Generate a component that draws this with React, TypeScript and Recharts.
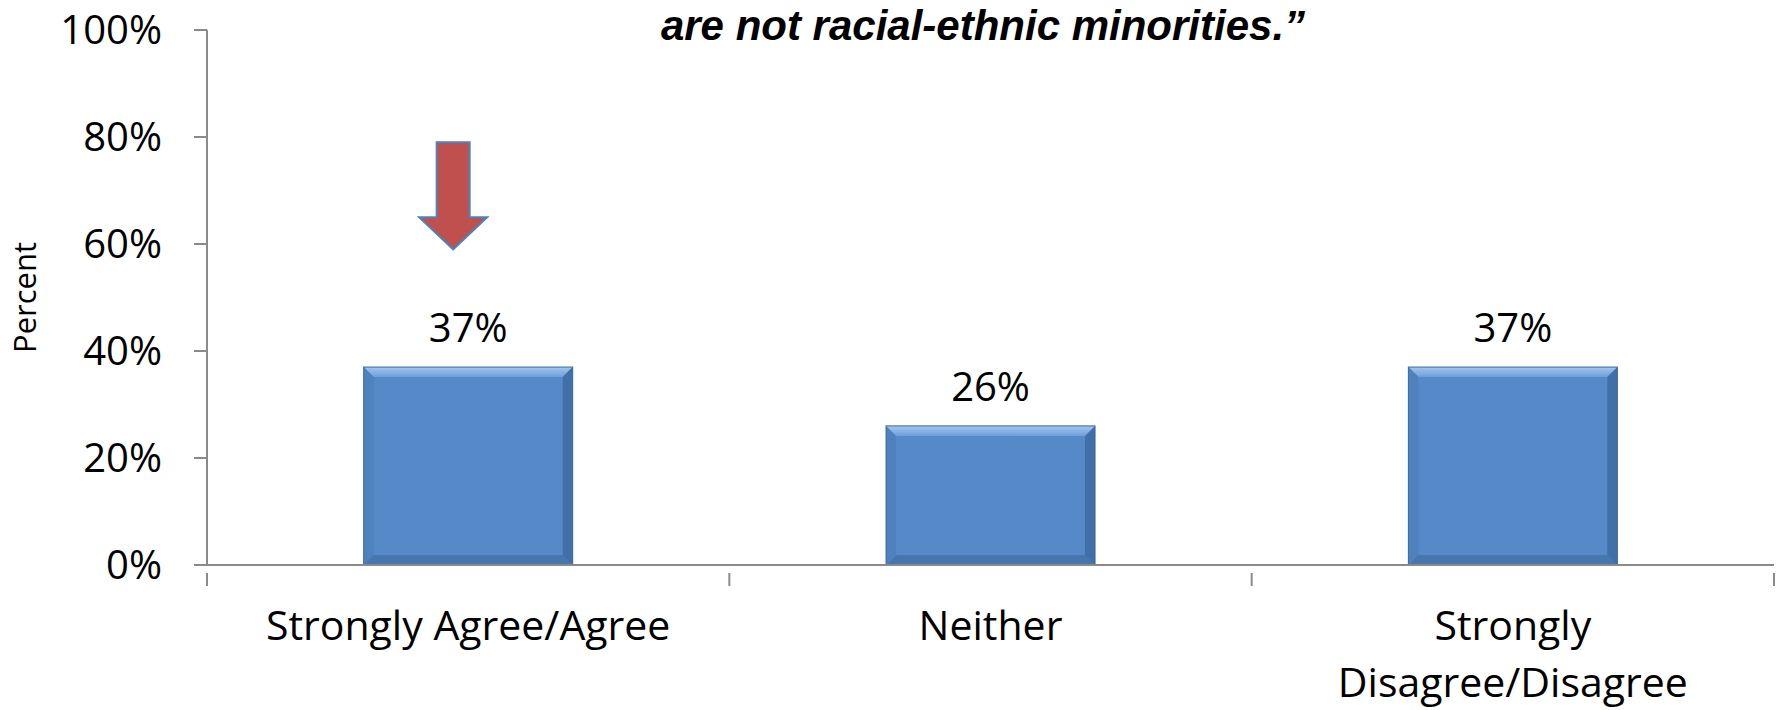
import {
  BarChart, Bar, XAxis, YAxis, LabelList, ReferenceArea,
} from 'recharts'

const categories = ['Strongly Agree/Agree', 'Neither', 'Strongly Disagree/Disagree']
const percents = [37, 26, 37]
const yTicks = [0, 20, 40, 60, 80, 100]
const titleLine = 'are not racial-ethnic minorities.”'
const yLabel = 'Percent'
// arrow above the first bar, in axis units
const arrowFrom = 79
const arrowTo = 59

const data = categories.map((name, i) => ({ name, value: percents[i] }))

const W = 1781
const H = 710
const Y_AXIS_W = 207
const RIGHT = 7
const AXIS_GREY = '#8a8a8a'
const FONT = '"Open Sans", Calibri, sans-serif'
const bandW = (W - Y_AXIS_W - RIGHT) / categories.length

// Excel wraps long category names onto two lines
function wrapLabel(s: string): string[] {
  if (s.length <= 22) return [s]
  const i = s.indexOf(' ')
  return [s.slice(0, i), s.slice(i + 1)]
}

function BevelBar(props: any) {
  const { x, y, width, height } = props
  if (!height || height <= 0) return null
  const b = 10
  return (
    <g>
      <rect x={x} y={y} width={width} height={height} fill="#5689c8" />
      <polygon
        points={`${x},${y} ${x + width},${y} ${x + width - b},${y + b} ${x + b},${y + b}`}
        fill="url(#bevelTop)"
      />
      <polygon
        points={`${x},${y + height} ${x + width},${y + height} ${x + width - b},${y + height - b} ${x + b},${y + height - b}`}
        fill="#4775ad"
      />
      <polygon
        points={`${x},${y} ${x + b},${y + b} ${x + b},${y + height - b} ${x},${y + height}`}
        fill="#4f81be"
      />
      <polygon
        points={`${x + width},${y} ${x + width - b},${y + b} ${x + width - b},${y + height - b} ${x + width},${y + height}`}
        fill="#416fa8"
      />
      <rect x={x} y={y} width={width} height={height} fill="none" stroke="#3d6a9e" strokeWidth={1} />
    </g>
  )
}

function Arrow(props: any) {
  const { x, y, width, height } = props
  const cx = x + width / 2 - 15
  const shaft = 16.5
  const head = 34
  const neck = y + height * 0.7
  const tip = y + height
  const pts = [
    [cx - shaft, y], [cx + shaft, y], [cx + shaft, neck], [cx + head, neck],
    [cx, tip], [cx - head, neck], [cx - shaft, neck],
  ].map((p) => p.join(',')).join(' ')
  return <polygon points={pts} fill="#c0504d" stroke="#4f81bd" strokeWidth={2} strokeLinejoin="miter" />
}

function CategoryTick(props: any) {
  const { x, y, payload, index } = props
  const half = bandW / 2
  const lines = wrapLabel(String(payload.value))
  return (
    <g>
      {index === 0 && (
        <line x1={x - half} y1={y} x2={x - half} y2={y + 13} stroke={AXIS_GREY} strokeWidth={2} />
      )}
      <line x1={x + half} y1={y} x2={x + half} y2={y + 13} stroke={AXIS_GREY} strokeWidth={2} />
      <text x={x} y={y + 67} textAnchor="middle" fontSize={41} fontFamily={FONT} fill="#000">
        {lines.map((ln, i) => (
          <tspan key={i} x={x} dy={i === 0 ? 0 : 57}>{ln}</tspan>
        ))}
      </text>
    </g>
  )
}

export default function App() {
  return (
    <div style={{ position: 'absolute', left: 0, top: 0, width: W, height: H, background: '#fff' }}>
      <BarChart
        width={W}
        height={H}
        data={data}
        margin={{ top: 30, right: RIGHT, bottom: 0, left: 0 }}
        barCategoryGap="30%"
      >
        <defs>
          <linearGradient id="bevelTop" x1="0" y1="0" x2="0" y2="1">
            <stop offset="0%" stopColor="#a3c6ef" />
            <stop offset="100%" stopColor="#6e9fda" />
          </linearGradient>
        </defs>
        <XAxis
          dataKey="name"
          height={145}
          axisLine={{ stroke: AXIS_GREY, strokeWidth: 2 }}
          tickLine={false}
          tick={<CategoryTick />}
          interval={0}
        />
        <YAxis
          width={Y_AXIS_W}
          domain={[0, 100]}
          ticks={yTicks}
          interval={0}
          tickFormatter={(v) => `${v}%`}
          axisLine={{ stroke: AXIS_GREY, strokeWidth: 2 }}
          tickLine={{ stroke: AXIS_GREY, strokeWidth: 2 }}
          tickSize={13}
          tickMargin={32}
          tick={{ fontSize: 40, fill: '#000', fontFamily: FONT }}
          label={{
            value: yLabel,
            content: (p: any) => {
              const vb = p.viewBox
              const cx = vb.x + 36
              const cy = vb.y + vb.height / 2
              return (
                <text
                  x={cx}
                  y={cy}
                  transform={`rotate(-90, ${cx}, ${cy})`}
                  textAnchor="middle"
                  fontSize={31}
                  fontFamily={FONT}
                  fill="#000"
                >
                  {yLabel}
                </text>
              )
            },
          }}
        />
        <Bar dataKey="value" shape={<BevelBar />} isAnimationActive={false}>
          <LabelList
            dataKey="value"
            position="top"
            offset={25}
            formatter={(v: any) => `${v}%`}
            style={{ fontSize: 40, fill: '#000', fontFamily: FONT }}
          />
        </Bar>
        <ReferenceArea
          x1={categories[0]}
          x2={categories[0]}
          y1={arrowTo}
          y2={arrowFrom}
          ifOverflow="visible"
          shape={<Arrow />}
        />
      </BarChart>
      <svg
        width={W}
        height={H}
        style={{ position: 'absolute', left: 0, top: 0, pointerEvents: 'none' }}
      >
        <text
          x={983}
          y={40}
          textAnchor="middle"
          fontSize={42}
          fontWeight="bold"
          fontStyle="italic"
          fontFamily='"Liberation Sans", Arial, sans-serif'
          fill="#000"
        >
          {titleLine}
        </text>
      </svg>
    </div>
  )
}
